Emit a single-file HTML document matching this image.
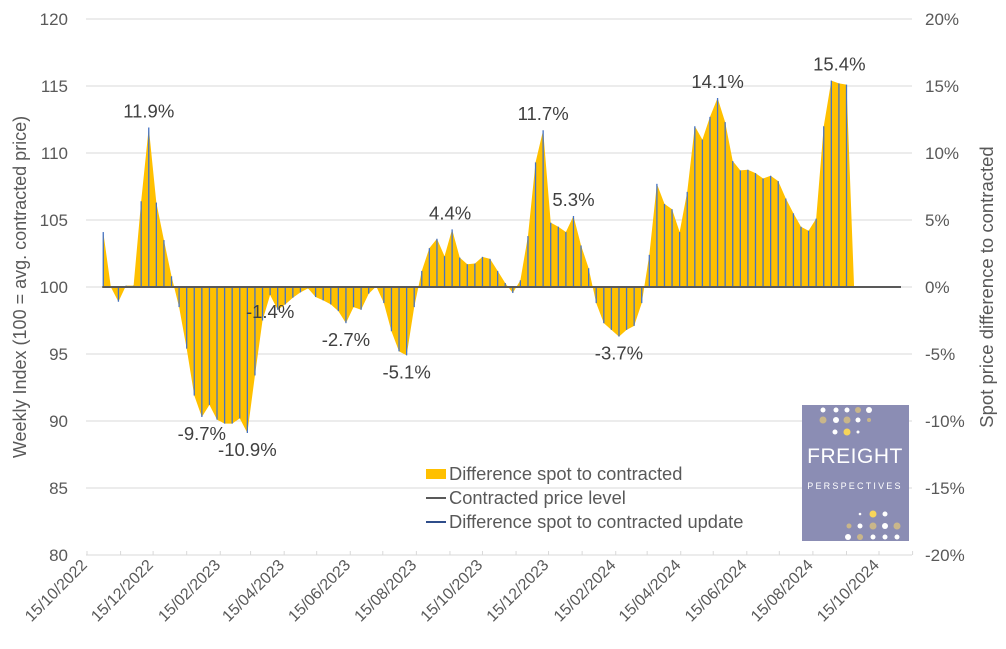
<!DOCTYPE html>
<html><head><meta charset="utf-8"><style>
html,body{margin:0;padding:0;background:#fff;}
svg{display:block;font-family:"Liberation Sans",Arial,sans-serif;}
</style></head><body>
<svg id="chart" width="1006" height="649" viewBox="0 0 1006 649" xmlns="http://www.w3.org/2000/svg">
<g id="grid"></g>
<g id="area"></g>
<g id="bars"></g>
<g id="axes"></g>
<g id="labels"></g>
<text transform="translate(26,287) rotate(-90)" text-anchor="middle" font-size="18" fill="#595959">Weekly Index (100 = avg. contracted price)</text>
<text transform="translate(993,287) rotate(-90)" text-anchor="middle" font-size="18.5" fill="#595959">Spot price difference to contracted</text>
<g font-size="18.3" fill="#595959">
 <rect x="426" y="469" width="20" height="10" fill="#FFC000"/>
 <text x="449" y="480">Difference spot to contracted</text>
 <line x1="426" y1="498" x2="446" y2="498" stroke="#595959" stroke-width="2"/>
 <text x="449" y="504">Contracted price level</text>
 <line x1="426" y1="522" x2="446" y2="522" stroke="#2F4D8A" stroke-width="2"/>
 <text x="449" y="528">Difference spot to contracted update</text>
</g>
<g>
 <rect x="802" y="405" width="107" height="136" fill="#8B8DB4"/>
 <g id="dots"></g>
 <text x="855" y="463" text-anchor="middle" font-size="21" fill="#fff" letter-spacing="0.5">FREIGHT</text>
 <text x="855" y="489" text-anchor="middle" font-size="9" fill="#fff" letter-spacing="2.2">PERSPECTIVES</text>
</g>
</svg>
<script>
const values = [4.1,0,-1.1,0.1,0.1,6.4,11.9,6.3,3.5,0.8,-1.5,-4.6,-8.1,-9.7,-8.8,-9.9,-10.2,-10.2,-9.8,-10.9,-6.6,-2.5,-0.6,-1.7,-1.3,-0.8,-0.4,-0.1,-0.75,-1.0,-1.3,-1.8,-2.7,-1.5,-1.7,-0.5,0.05,-1.2,-3.3,-4.8,-5.1,-1.5,1.2,2.9,3.6,2.3,4.3,2.2,1.7,1.75,2.25,2.1,1.2,0.3,-0.45,0.5,3.8,9.3,11.7,4.8,4.5,4.1,5.3,3.1,1.4,-1.2,-2.7,-3.2,-3.7,-3.2,-2.9,-1.2,2.4,7.7,6.2,5.8,4.1,7.1,12.0,11.0,12.7,14.1,12.3,9.4,8.7,8.75,8.5,8.1,8.3,7.9,6.6,5.5,4.5,4.2,5.1,12.0,15.4,15.2,15.1,0];
const startDate = "2022-10-30";
const leftTicks = [80,85,90,95,100,105,110,115,120];
const rightTicks = ["-20%","-15%","-10%","-5%","0%","5%","10%","15%","20%"];
const dateTicks = ["2022-10-15","2022-12-15","2023-02-15","2023-04-15","2023-06-15","2023-08-15","2023-10-15","2023-12-15","2024-02-15","2024-04-15","2024-06-15","2024-08-15","2024-10-15"];
const annotations = [[6,"11.9%",0],[13,"-9.7%",0],[19,"-10.9%",0],[22,"-1.4%",0],[32,"-2.7%",0],[40,"-5.1%",0],[46,"4.4%",-2],[58,"11.7%",0],[62,"5.3%",0],[68,"-3.7%",0],[81,"14.1%",0],[96,"15.4%",8]];

const NS="http://www.w3.org/2000/svg";
const D0=Date.parse("2022-10-15"), D1=Date.parse("2024-10-15");
function xDate(s){return 87+(Date.parse(s)-D0)/(D1-D0)*792;}
function xIdx(i){return xDate(startDate)+i*7*(792/((D1-D0)/86400000));}
function y(v){return 287+(100-v)*13.4;}
function yp(p){return y(100+p);}
function mk(tag,attrs,parent){const e=document.createElementNS(NS,tag);for(const k in attrs)e.setAttribute(k,attrs[k]);parent.appendChild(e);return e;}
const grid=document.getElementById('grid'),axes=document.getElementById('axes'),area=document.getElementById('area'),bars=document.getElementById('bars'),labels=document.getElementById('labels');
leftTicks.forEach((t,i)=>{
 if(t!==80){const g=mk('line',{x1:86,x2:912,y1:y(t),y2:y(t),stroke:'#D9D9D9','stroke-width':1},grid);
 
 }
 const l=mk('text',{x:68,y:y(t)+6,'text-anchor':'end','font-size':17,fill:'#595959'},axes);l.textContent=t;
 
 
 const r=mk('text',{x:925,y:y(t)+6,'font-size':17,fill:'#595959'},axes);r.textContent=rightTicks[i];
 
 
});
const ax=mk('line',{x1:86,x2:912,y1:555,y2:555,stroke:'#D9D9D9','stroke-width':1},axes);


for(let m=0;m<=25;m++){const d=new Date(Date.UTC(2022,9+m,15));const xx=xDate(d.toISOString().slice(0,10));
 if(xx>913)break;
 const tk=mk('line',{x1:xx,x2:xx,y1:551,y2:555,stroke:'#D9D9D9'},axes);
 
 }
dateTicks.forEach(s=>{const p=s.split('-');const xx=xDate(s);
 const t=mk('text',{transform:`translate(${xx+1},${566}) rotate(-45)`,'text-anchor':'end','font-size':16,fill:'#595959'},axes);
 t.textContent=p[2]+'/'+p[1]+'/'+p[0];
 
 });
let d='M'+xIdx(0)+','+y(100);
values.forEach((v,i)=>{d+=' L'+xIdx(i).toFixed(2)+','+yp(v).toFixed(2);});
d+=' L'+xIdx(values.length-1)+','+y(100)+' Z';
const ar=mk('path',{d:d,fill:'#FFC000'},area);


values.forEach((v,i)=>{if(i===values.length-1)return;const b=mk('line',{x1:xIdx(i),x2:xIdx(i),y1:y(100),y2:yp(v),stroke:'#4472C4','stroke-width':1.3},bars);
 
 });
const base=mk('line',{x1:xIdx(0)-1,x2:901,y1:y(100),y2:y(100),stroke:'#595959','stroke-width':2},axes);


annotations.forEach(a=>{const v=values[a[0]];const xx=xIdx(a[0])+a[2];const yy=v>=0?yp(v)-10:yp(v)+23;
 const t=mk('text',{x:xx,y:yy,'text-anchor':'middle','font-size':18.5,fill:'#404040'},labels);t.textContent=a[1];
 
 });
const dots=document.getElementById('dots');
const dotList=[[823,410,'#fff',2.5],[836,410,'#fff',2.5],[847,410,'#fff',2.5],[858,410,'#C9B68A',3],[869,410,'#fff',3],[823,420,'#C9B68A',3.5],[836,420,'#fff',3],[847,420,'#C9B68A',3.5],[858,420,'#fff',2.5],[869,420,'#C9B68A',2],[835,432,'#fff',2.5],[847,432,'#F7D55A',3.5],[858,432,'#fff',1.5],[860,514,'#fff',1.3],[873,514,'#F7D55A',3.5],[885,514,'#fff',2.5],[849,526,'#C9B68A',2.5],[860,526,'#fff',2.5],[873,526,'#C9B68A',3.5],[885,526,'#fff',3],[897,526,'#C9B68A',3.5],[848,537,'#fff',3],[860,537,'#C9B68A',3],[873,537,'#fff',2.5],[885,537,'#fff',2.5],[897,537,'#fff',2.5]];
dotList.forEach(p=>{const c=mk('circle',{cx:p[0],cy:p[1],r:p[3],fill:p[2]},dots);
 
 });
</script>
</body></html>
